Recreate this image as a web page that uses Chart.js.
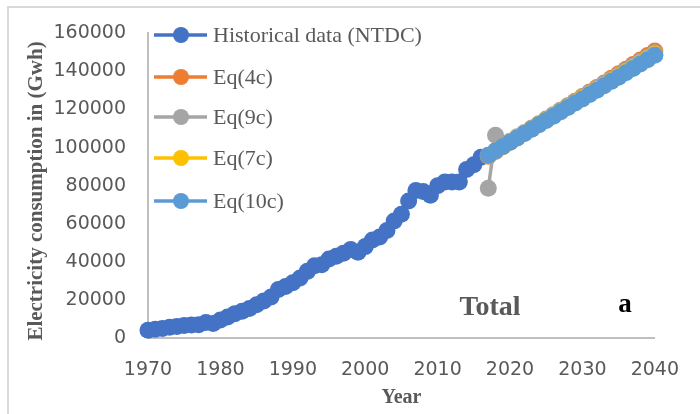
<!DOCTYPE html>
<html>
<head>
<meta charset="utf-8">
<script src="https://cdn.jsdelivr.net/npm/chart.js@4/dist/chart.umd.min.js"></script>
<style>
  body { margin: 0; background: #fff; }
  #wrap { position: relative; width: 700px; height: 414px; overflow: hidden; }
  #frame { position: absolute; left: 7px; top: 6px; width: 720px; height: 440px; border: 2px solid #d9d9d9; }
  canvas { position: absolute; left: 0; top: 0; }
</style>
</head>
<body>
<div id="wrap">
  <div id="frame"></div>
  <canvas id="myChart" width="700" height="414"></canvas>
</div>
<script>
// years
var histStart = 1970
var forecastStart = 2017
var xTicks = [1970, 1980, 1990, 2000, 2010, 2020, 2030, 2040]
var yTicks = [0, 20000, 40000, 60000, 80000, 100000, 120000, 140000, 160000]

// Historical data (NTDC), 1970 - 2016
var historical = [
  4100, 4600, 5000, 5600, 6000, 6600, 6800, 7000, 8200, 7600,
  9500, 11000, 12800, 14000, 15500, 17500, 19500, 21500, 25500, 27000,
  29000, 31500, 35000, 38000, 38500, 41500, 43000, 44500, 46500, 45000,
  48000, 51500, 53000, 56500, 61500, 65000, 72000, 77500, 77000, 75000,
  80000, 82000, 82000, 82000, 88500, 91000, 95000
]

// forecasts, 2017 - 2040
var eq4c = [
  95500, 98000, 100400, 102800, 105200, 107600, 110000, 112400, 114800, 117200,
  119600, 122000, 124400, 126800, 129200, 131600, 134000, 136400, 138800, 141200,
  143600, 146000, 148400, 150800
]
var eq9c = [
  78700, 106500, 101000, 103400, 105700, 108000, 110300, 112600, 115000, 117300,
  119600, 121900, 124300, 126600, 128900, 131200, 133600, 135900, 138200, 140500,
  142900, 145200, 147500, 149800
]
var eq7c = [
  96000, 98300, 100600, 102900, 105200, 107500, 109800, 112100, 114400, 116700,
  119000, 121300, 123600, 125900, 128200, 130500, 132800, 135100, 137400, 139700,
  142000, 144300, 146600, 148900
]
var eq10c = [
  96000, 98300, 100600, 102800, 105100, 107400, 109700, 112000, 114200, 116500,
  118800, 121100, 123400, 125600, 127900, 130200, 132500, 134800, 137000, 139300,
  141600, 143900, 146200, 148500
]

var seriesNames = ["Historical data (NTDC)", "Eq(4c)", "Eq(9c)", "Eq(7c)", "Eq(10c)"]
var seriesColors = ["#4472C4", "#ED7D31", "#A5A5A5", "#FFC000", "#5B9BD5"]
var yTitle = "Electricity consumption in (Gwh)"

function toPoints(values, start){
  return values.map(function(v, i){ return {x: start + i, y: v} })
}

function makeSet(idx, values, start){
  return {
    label: seriesNames[idx],
    data: toPoints(values, start),
    borderColor: seriesColors[idx],
    backgroundColor: seriesColors[idx],
    borderWidth: 3.5,
    pointRadius: 8.5,
    pointHoverRadius: 8.5,
    pointBorderWidth: 0,
    tension: 0,
    clip: false,
    order: 5 - idx
  }
}

var grey = "#595959"

// legend inside the plot, y title and the two free labels
var extras = {
  id: "extras",
  afterDraw: function(chart){
    var ctx = chart.ctx
    ctx.save()
    var rows = [35, 77, 117, 158, 201]
    ctx.font = "22px 'Liberation Serif', serif"
    ctx.textBaseline = "middle"
    ctx.textAlign = "left"
    for (var i = 0; i < seriesNames.length; i++){
      var y = rows[i]
      ctx.strokeStyle = seriesColors[i]
      ctx.lineWidth = 3.5
      ctx.beginPath()
      ctx.moveTo(154, y)
      ctx.lineTo(207, y)
      ctx.stroke()
      ctx.fillStyle = seriesColors[i]
      ctx.beginPath()
      ctx.arc(181, y, 8, 0, Math.PI * 2)
      ctx.fill()
      ctx.fillStyle = grey
      ctx.fillText(seriesNames[i], 213, y + 1)
    }
    // y axis title
    ctx.save()
    ctx.translate(37, 191)
    ctx.rotate(-Math.PI / 2)
    ctx.textAlign = "center"
    ctx.font = "bold 21px 'Liberation Serif', serif"
    ctx.fillStyle = grey
    ctx.fillText(yTitle, 0, 0)
    ctx.restore()

    ctx.textAlign = "center"
    ctx.font = "bold 28px 'Liberation Serif', serif"
    ctx.fillStyle = grey
    ctx.fillText("Total", 490, 308)
    ctx.font = "bold 27px 'Liberation Serif', serif"
    ctx.fillStyle = "#000"
    ctx.fillText("a", 625, 305)
    ctx.restore()
  }
}

var ctx = document.getElementById("myChart").getContext("2d")
new Chart(ctx, {
  type: "line",
  data: {
    datasets: [
      makeSet(0, historical, histStart),
      makeSet(1, eq4c, forecastStart),
      makeSet(2, eq9c, forecastStart),
      makeSet(3, eq7c, forecastStart),
      makeSet(4, eq10c, forecastStart)
    ]
  },
  options: {
    responsive: false,
    animation: false,
    events: [],
    layout: { padding: { left: 0, top: 27, right: 39, bottom: 0 } },
    plugins: {
      legend: { display: false },
      tooltip: { enabled: false }
    },
    scales: {
      x: {
        type: "linear",
        min: 1970,
        max: 2040,
        afterBuildTicks: function(scale){
          scale.ticks = xTicks.map(function(v){ return {value: v} })
        },
        afterFit: function(scale){ scale.height = 76 },
        grid: { display: true, drawOnChartArea: false, drawTicks: false },
        border: { display: true, color: "#bfbfbf", width: 2 },
        ticks: {
          color: grey,
          padding: 21,
          font: { family: "'DejaVu Sans'", size: 19 },
          maxRotation: 0,
          callback: function(v){ return String(v) }
        },
        title: {
          display: true,
          text: "Year",
          color: grey,
          padding: { top: 0, bottom: 4 },
          font: { family: "'Liberation Serif'", size: 20, weight: "bold" }
        }
      },
      y: {
        min: 0,
        max: 160000,
        afterBuildTicks: function(scale){
          scale.ticks = yTicks.map(function(v){ return {value: v} })
        },
        afterFit: function(scale){ scale.width = 148 },
        grid: { display: true, drawOnChartArea: false, drawTicks: false },
        border: { display: true, color: "#bfbfbf", width: 2 },
        ticks: {
          color: grey,
          padding: 22,
          font: { family: "'DejaVu Sans'", size: 19 },
          callback: function(v){ return String(v) }
        }
      }
    }
  },
  plugins: [extras]
})
</script>
</body>
</html>
